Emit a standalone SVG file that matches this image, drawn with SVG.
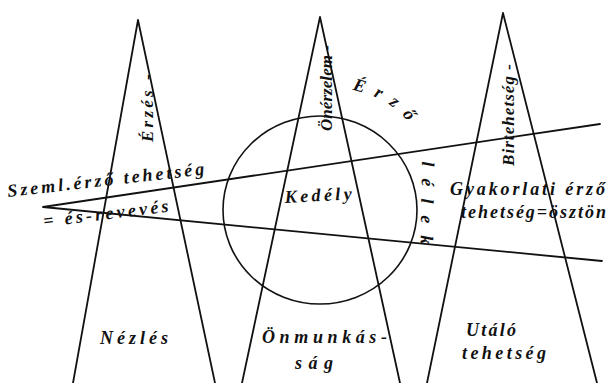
<svg xmlns="http://www.w3.org/2000/svg" width="615" height="383" viewBox="0 0 615 383">
<style>
.ln{fill:none;stroke:#111;stroke-width:1.8;stroke-linecap:round;stroke-linejoin:round}
.cc{fill:none;stroke:#111;stroke-width:1.6}
.t{font-family:"Liberation Serif","DejaVu Serif",serif;font-style:italic;font-weight:bold;fill:#111;font-size:18px}
.v{font-size:17px}
</style>
<defs>
<path id="arc" d="M 352 90 Q 416 104 422 160 L 420 270"/>
</defs>
<rect width="615" height="383" fill="#fff"/>
<g id="triangle-erzes">
<polyline class="ln" points="73,383 138,20 215,383"/>
<text class="t v" transform="translate(153,142) rotate(-90)" textLength="68" lengthAdjust="spacing">Érzés -</text>
<text class="t" x="100" y="344" textLength="68" lengthAdjust="spacing">Nézlés</text>
</g>
<g id="triangle-onerzelem">
<polyline class="ln" points="242,383 320,17 400,383"/>
<text class="t v" transform="translate(332,131) rotate(-90)" textLength="86" lengthAdjust="spacing">Önérzelem -</text>
<text class="t" x="262" y="343" textLength="125" lengthAdjust="spacing">Önmunkás-</text>
<text class="t" x="295" y="369" textLength="38" lengthAdjust="spacing">ság</text>
</g>
<g id="triangle-birtehetseg">
<polyline class="ln" points="427,383 503,13 597,383"/>
<text class="t v" transform="translate(514,166) rotate(-90)" textLength="102" lengthAdjust="spacing">Birtehetség -</text>
<text class="t" x="466" y="336" textLength="50" lengthAdjust="spacing">Utáló</text>
<text class="t" x="462" y="359" textLength="84" lengthAdjust="spacing">tehetség</text>
</g>
<g id="circle-kedely">
<ellipse class="cc" cx="320" cy="210" rx="97" ry="94"/>
<text class="t" x="285" y="203" textLength="67" lengthAdjust="spacing" transform="rotate(-3 285 203)">Kedély</text>
<text class="t" letter-spacing="10"><textPath href="#arc">Érző</textPath></text>
<text class="t" letter-spacing="12"><textPath href="#arc" startOffset="108">lélek</textPath></text>
</g>
<g id="connectors">
<polyline class="ln" points="600,124 43,207 602,261"/>
</g>
<g id="labels-left">
<text class="t" x="8" y="197" textLength="198" lengthAdjust="spacing" transform="rotate(-6.5 8 197)">Szeml.érző tehetség</text>
<text class="t" x="44" y="227" textLength="126" lengthAdjust="spacing" transform="rotate(-7 44 227)">= és-revevés</text>
</g>
<g id="labels-right">
<text class="t" x="450" y="195" textLength="155" lengthAdjust="spacing">Gyakorlati érző</text>
<text class="t" x="461" y="218" textLength="145" lengthAdjust="spacing">tehetség=ösztön</text>
</g>
</svg>
